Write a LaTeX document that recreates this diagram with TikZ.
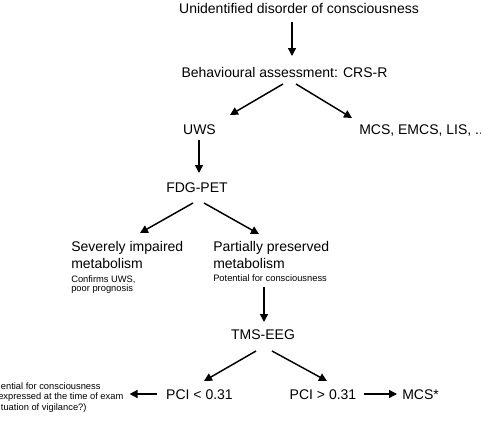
\documentclass[tikz,border=0pt]{standalone}
\usepackage{fontspec}
\setmainfont{Liberation Sans}
\usetikzlibrary{arrows.meta,calc}

\tikzset{
  lbl/.style={inner sep=0pt, font=\fontsize{10.5}{12.4}\selectfont},
  sml/.style={inner sep=0pt, font=\fontsize{7}{6.8}\selectfont},
  arr/.style={line width=1.1pt, -{Triangle[length=6pt,width=6pt]}},
}

\begin{document}
\begin{tikzpicture}[x=0.75pt,y=0.75pt,yscale=-1,xscale=1]
%set diagram frame: 481 wide, 421 high
\clip (0,0) rectangle (481,421);

% Text Node
\node (top) [lbl, anchor=base] at (299,13.5) {Unidentified disorder of consciousness};
% Text Node
\node (crs) [lbl, anchor=base] at (284.5,77) {Behavioural assessment: CRS-R};
% Text Node
\node (uws) [lbl, anchor=base] at (199.5,134) {UWS};
% Text Node
\node (mcs) [lbl, anchor=base west] at (359,134) {MCS, EMCS, LIS, ..};
% Text Node
\node (fdg) [lbl, anchor=base] at (197,192) {FDG-PET};
% Text Node
\node (sev) [lbl, anchor=north west, align=left] at (71,241.5) {Severely impaired\\metabolism};
% Text Node
\node (sevnote) [sml, anchor=north west, align=left] at (71,275.5) {Confirms UWS,\\poor prognosis};
% Text Node
\node (part) [lbl, anchor=north west, align=left] at (213,241.5) {Partially preserved\\metabolism};
% Text Node
\node (partnote) [sml, anchor=base west] at (213,281.5) {Potential for consciousness};
% Text Node
\node (tms) [lbl, anchor=base] at (263,339) {TMS-EEG};
% Text Node
\node (pcilo) [lbl, anchor=base] at (199.5,399) {PCI < 0.31};
% Text Node
\node (pcihi) [lbl, anchor=base] at (323,399) {PCI > 0.31};
% Text Node
\node (mcsstar) [lbl, anchor=base west] at (402,399) {MCS*};
% Text Node
\node (note) [sml, font=\fontsize{7}{7.9}\selectfont, anchor=north west, align=left] at (-2,382)
  {\hspace*{2pt}ential for consciousness\\expressed at the time of exam\\\hspace*{2pt}tuation of vigilance?)};

%Straight Lines
\draw [arr] ($(top.base)+(-7,8.5)$) -- ($(crs.base)+(7.5,-21)$);
%Straight Lines
\draw [arr] ($(crs.base)+(-1.5,7)$) -- ($(uws.base)+(30.5,-19)$);
%Straight Lines
\draw [arr] ($(crs.base)+(11.5,7)$) -- ($(mcs.base west)+(-7,-16)$);
%Straight Lines
\draw [arr] ($(uws.base)+(-0.5,6)$) -- ($(fdg.base)+(2,-19)$);
%Straight Lines
\draw [arr] ($(fdg.base)+(-4,11)$) -- ($(sev.north west)+(69,-8.5)$);
%Straight Lines
\draw [arr] ($(fdg.base)+(7,11)$) -- ($(part.north west)+(46,-7.5)$);
%Straight Lines
\draw [arr] ($(partnote.base west)+(51,5.5)$) -- ($(tms.base)+(1,-17)$);
%Straight Lines
\draw [arr] ($(tms.base)+(-7,12)$) -- ($(pcilo.base)+(4.5,-18)$);
%Straight Lines
\draw [arr] ($(tms.base)+(9,12)$) -- ($(pcihi.base)+(4,-18)$);
%Straight Lines
\draw [arr] ($(pcilo.base west)+(-9,-5)$) -- ($(note.north east)+(6,12)$);
%Straight Lines
\draw [arr] ($(pcihi.base east)+(7,-5)$) -- ($(mcsstar.base west)+(-5,-5)$);

\end{tikzpicture}
\end{document}
